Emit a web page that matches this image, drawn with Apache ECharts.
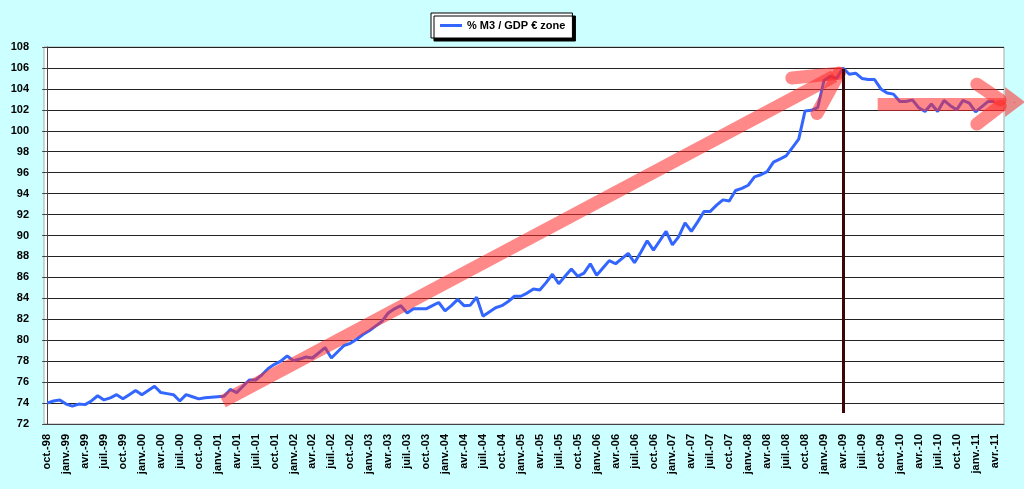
<!DOCTYPE html>
<html>
<head>
<meta charset="utf-8">
<script src="https://cdn.jsdelivr.net/npm/echarts@6/dist/echarts.min.js"></script>
<style>
  html, body { margin: 0; padding: 0; background: #ccffff; }
  #main { width: 1024px; height: 489px; }
</style>
</head>
<body>
<div id="main"></div>
<script>
// months, oct.-98 .. mai-11
const months = [
  'oct.-98', 'nov.-98', 'déc.-98',
  'janv.-99', 'févr.-99', 'mars-99', 'avr.-99', 'mai-99', 'juin-99', 'juil.-99', 'août-99', 'sept.-99', 'oct.-99', 'nov.-99', 'déc.-99',
  'janv.-00', 'févr.-00', 'mars-00', 'avr.-00', 'mai-00', 'juin-00', 'juil.-00', 'août-00', 'sept.-00', 'oct.-00', 'nov.-00', 'déc.-00',
  'janv.-01', 'févr.-01', 'mars-01', 'avr.-01', 'mai-01', 'juin-01', 'juil.-01', 'août-01', 'sept.-01', 'oct.-01', 'nov.-01', 'déc.-01',
  'janv.-02', 'févr.-02', 'mars-02', 'avr.-02', 'mai-02', 'juin-02', 'juil.-02', 'août-02', 'sept.-02', 'oct.-02', 'nov.-02', 'déc.-02',
  'janv.-03', 'févr.-03', 'mars-03', 'avr.-03', 'mai-03', 'juin-03', 'juil.-03', 'août-03', 'sept.-03', 'oct.-03', 'nov.-03', 'déc.-03',
  'janv.-04', 'févr.-04', 'mars-04', 'avr.-04', 'mai-04', 'juin-04', 'juil.-04', 'août-04', 'sept.-04', 'oct.-04', 'nov.-04', 'déc.-04',
  'janv.-05', 'févr.-05', 'mars-05', 'avr.-05', 'mai-05', 'juin-05', 'juil.-05', 'août-05', 'sept.-05', 'oct.-05', 'nov.-05', 'déc.-05',
  'janv.-06', 'févr.-06', 'mars-06', 'avr.-06', 'mai-06', 'juin-06', 'juil.-06', 'août-06', 'sept.-06', 'oct.-06', 'nov.-06', 'déc.-06',
  'janv.-07', 'févr.-07', 'mars-07', 'avr.-07', 'mai-07', 'juin-07', 'juil.-07', 'août-07', 'sept.-07', 'oct.-07', 'nov.-07', 'déc.-07',
  'janv.-08', 'févr.-08', 'mars-08', 'avr.-08', 'mai-08', 'juin-08', 'juil.-08', 'août-08', 'sept.-08', 'oct.-08', 'nov.-08', 'déc.-08',
  'janv.-09', 'févr.-09', 'mars-09', 'avr.-09', 'mai-09', 'juin-09', 'juil.-09', 'août-09', 'sept.-09', 'oct.-09', 'nov.-09', 'déc.-09',
  'janv.-10', 'févr.-10', 'mars-10', 'avr.-10', 'mai-10', 'juin-10', 'juil.-10', 'août-10', 'sept.-10', 'oct.-10', 'nov.-10', 'déc.-10',
  'janv.-11', 'févr.-11', 'mars-11', 'avr.-11', 'mai-11'
];

const seriesName = '% M3 / GDP € zone';

// % M3 / GDP (one value per month)
const m3Gdp = [
  74.0, 74.2, 74.3,
  73.9, 73.7, 73.9, 73.85, 74.2, 74.7, 74.3, 74.5, 74.8, 74.4, 74.8, 75.2,
  74.8, 75.2, 75.6, 75.0, 74.9, 74.8, 74.2, 74.8, 74.6, 74.4, 74.5, 74.55,
  74.6, 74.65, 75.3, 75.0, 75.6, 76.2, 76.2, 76.7, 77.3, 77.7, 78.0, 78.5,
  78.05, 78.2, 78.4, 78.3, 78.8, 79.3, 78.3, 78.9, 79.5, 79.7, 80.1, 80.55,
  80.9, 81.35, 81.8, 82.6, 83.0, 83.3, 82.6, 83.0, 83.0, 83.0, 83.3, 83.6,
  82.8, 83.3, 83.9, 83.3, 83.35, 84.1, 82.3, 82.7, 83.1, 83.3, 83.7, 84.2,
  84.2, 84.5, 84.9, 84.8, 85.5, 86.3, 85.4, 86.1, 86.8, 86.1, 86.4, 87.3,
  86.2, 86.9, 87.6, 87.3, 87.8, 88.3, 87.4, 88.4, 89.5, 88.6, 89.5, 90.4,
  89.1, 89.9, 91.2, 90.4, 91.3, 92.3, 92.3, 92.9, 93.4, 93.3, 94.3, 94.5,
  94.8, 95.6, 95.8, 96.1, 97.0, 97.3, 97.6, 98.4, 99.2, 101.9, 101.95, 102.2,
  104.8, 105.2, 105.0, 106.0, 105.4, 105.5, 105.0, 104.9, 104.9, 104.0, 103.6, 103.5,
  102.8, 102.8, 102.95, 102.2, 101.85, 102.55, 101.85, 102.9, 102.4, 102.0, 102.9, 102.65,
  101.8, 102.3, 102.8, 102.8
];

// hand-drawn annotations, in [month index, value]
const arrowShafts = [
  [[27.8, 74.15], [124.6, 105.2]],
  [[131.5, 102.55], [151.7, 102.55]]
];
const arrowBarbs = [
  [[117.9, 105.04], [125.4, 105.5]],
  [[121.9, 101.65], [125.4, 105.5]],
  [[147.2, 104.45], [150.9, 102.95]],
  [[147.2, 100.65], [150.9, 102.35]]
];
const arrowTip = [[153.05, 102.74], [153.25, 102.74]];
const peakLine = [[126.05, 105.9], [126.05, 73.05]];

const font = 'Liberation Sans, Arial, sans-serif';
const red = 'rgba(255, 40, 40, 0.55)';

const chart = echarts.init(document.getElementById('main'));

const option = {
  animation: false,
  backgroundColor: '#ccffff',
  textStyle: { fontFamily: font },
  legend: {
    data: [{ name: seriesName, icon: 'rect' }],
    left: 431,
    top: 13,
    padding: [7, 7, 7, 9],
    itemWidth: 22,
    itemHeight: 3,
    backgroundColor: '#fff',
    borderColor: '#000',
    borderWidth: 1,
    shadowColor: '#000',
    shadowOffsetX: 3,
    shadowOffsetY: 3,
    shadowBlur: 0,
    textStyle: { fontFamily: font, fontWeight: 'bold', fontSize: 11, color: '#000' }
  },
  grid: {
    left: 44,
    right: 20,
    top: 47,
    bottom: 65,
    show: true,
    backgroundColor: '#fff',
    borderColor: '#aaa',
    borderWidth: 1
  },
  xAxis: [
    {
      type: 'category',
      data: months,
      boundaryGap: true,
      axisLine: { lineStyle: { color: '#444', width: 1 } },
      axisTick: { interval: 2, length: 5, lineStyle: { color: '#444' } },
      axisLabel: {
        interval: 2,
        rotate: 90,
        margin: 10,
        fontFamily: font,
        fontWeight: 'bold',
        fontSize: 11,
        color: '#000'
      },
      splitLine: { show: false }
    },
    {
      type: 'value',
      min: -0.5,
      max: 151.5,
      show: false
    }
  ],
  yAxis: {
    type: 'value',
    min: 72,
    max: 108,
    interval: 2,
    axisLine: { show: true, lineStyle: { color: '#444', width: 1 } },
    axisTick: { show: true, length: 5, lineStyle: { color: '#444' } },
    axisLabel: { margin: 15, fontFamily: font, fontWeight: 'bold', fontSize: 11, color: '#000' },
    splitLine: { lineStyle: { color: '#222', width: 1 } }
  },
  series: [
    {
      name: seriesName,
      type: 'line',
      data: m3Gdp,
      symbol: 'none',
      itemStyle: { color: '#3366ff' },
      lineStyle: { color: '#3366ff', width: 3 },
      z: 2
    },
    {
      type: 'lines',
      coordinateSystem: 'cartesian2d',
      xAxisIndex: 1,
      clip: false,
      silent: true,
      data: arrowShafts.map(c => ({ coords: c })),
      lineStyle: { color: red, width: 13, cap: 'butt', opacity: 1 },
      z: 3
    },
    {
      type: 'lines',
      coordinateSystem: 'cartesian2d',
      xAxisIndex: 1,
      clip: false,
      silent: true,
      data: arrowBarbs.map(c => ({ coords: c })),
      lineStyle: { color: red, width: 13, cap: 'round', opacity: 1 },
      z: 3
    },
    {
      type: 'lines',
      coordinateSystem: 'cartesian2d',
      xAxisIndex: 1,
      clip: false,
      silent: true,
      symbol: ['none', 'triangle'],
      symbolSize: [1, [30, 20]],
      data: [{ coords: arrowTip }],
      lineStyle: { color: red, width: 1, opacity: 1 },
      z: 3
    },
    {
      type: 'lines',
      coordinateSystem: 'cartesian2d',
      xAxisIndex: 1,
      clip: false,
      silent: true,
      data: [{ coords: peakLine }],
      lineStyle: { color: '#3d0505', width: 3, opacity: 1 },
      z: 5
    }
  ]
};

chart.setOption(option);
window.addEventListener('resize', () => chart.resize());
</script>
</body>
</html>
